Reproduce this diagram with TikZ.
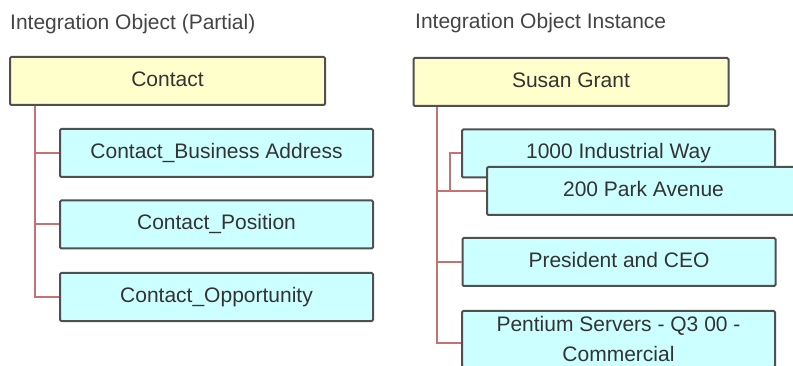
\documentclass[tikz,border=0pt]{standalone}
\usepackage{fontspec}
\setmainfont{Liberation Sans}
\definecolor{parentfill}{HTML}{FFFFCC}
\definecolor{childfill}{HTML}{CCFFFF}
\definecolor{boxborder}{HTML}{505050}
\definecolor{connred}{HTML}{C47272}
\definecolor{txt}{HTML}{333333}
\definecolor{titletxt}{HTML}{444444}
\tikzset{
  basebox/.style={draw=boxborder, line width=2pt, rounded corners=1.2pt, inner sep=0pt,
    minimum width=313pt, minimum height=48pt, text=txt,
    font=\fontsize{21}{30}\selectfont},
  box/.style={basebox, text height=15pt, text depth=4pt},
  parentbox/.style={box, fill=parentfill, minimum width=315pt},
  childbox/.style={box, fill=childfill},
  childboxml/.style={basebox, fill=childfill, align=center},
  conn/.style={draw=connred, line width=2pt},
  titlelabel/.style={anchor=base west, inner sep=0pt, text=titletxt, font=\fontsize{21}{24}\selectfont}
}
\begin{document}
\begin{tikzpicture}[x=1pt,y=-1pt]
\useasboundingbox (0,0) rectangle (793,366);
\clip (0,0) rectangle (793,366);
\fill[white] (0,0) rectangle (793,366);

% titles
\node[titlelabel] (tl) at (10,30) {Integration Object (Partial)};
\node[titlelabel] (tr) at (415,29) {Integration Object Instance};

% left tree
\node[parentbox] (contact) at (167.5,81) {Contact};
\node[childbox] (c1) at (216.5,153) {Contact\_Business Address};
\node[childbox] (c2) at (216.5,224.5) {Contact\_Position};
\node[childbox] (c3) at (216.5,297) {Contact\_Opportunity};
\coordinate (lt) at ([xshift=26pt]contact.south west);
\draw[conn] (lt) |- (c3.west);
\draw[conn] (c1.west -| lt) -- (c1.west);
\draw[conn] (c2.west -| lt) -- (c2.west);

% right tree
\node[parentbox] (sg) at (571,82) {Susan Grant};
\coordinate (rt) at ([xshift=24pt]sg.south west);
\node[childbox] (ind) at (618.5,153.5) {1000 Industrial Way};
\node[childbox] (ceo) at (619,262) {President and CEO};
\node[childboxml, minimum height=56pt] (pent) at (618.5,339) {Pentium Servers - Q3 00 -\\Commercial};
\coordinate (pb) at ([yshift=-4pt]pent.west);
\draw[conn] (rt) |- (pb);
\draw[conn] (ceo.west -| rt) -- (ceo.west);
\coordinate (park) at (487,191);
\draw[conn] (ind.west) -- ++(-11,0) coordinate (mid) |- (park);
\draw[conn] (park -| rt) -- (park);
\node[childbox] (pk) at (643.5,191) {200 Park Avenue};
\end{tikzpicture}
\end{document}
